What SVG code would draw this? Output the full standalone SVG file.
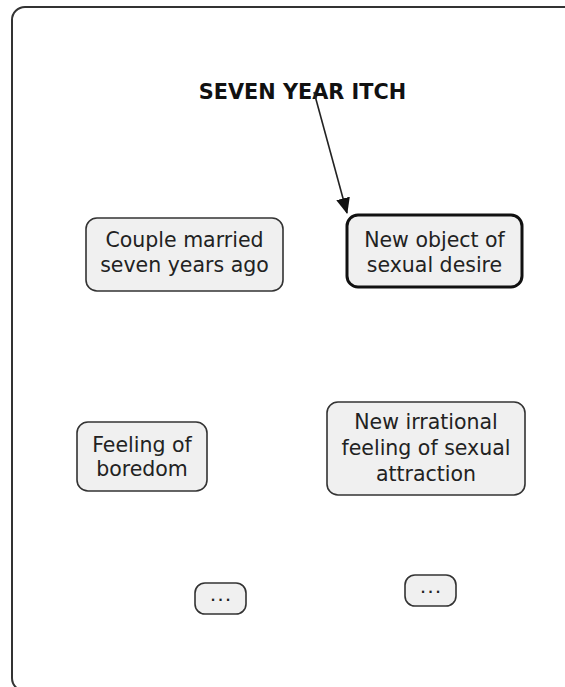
<svg xmlns="http://www.w3.org/2000/svg" width="565" height="687" viewBox="0 0 565 687">
<defs>
<style>
.frame{fill:#fff;stroke:#333;stroke-width:2}
.node rect{fill:#f0f0f0;stroke:#333;stroke-width:1.6}
.node.focus rect{stroke:#111;stroke-width:3}
.node text,.title{font-family:"DejaVu Sans",Verdana,sans-serif;fill:#222;text-anchor:middle}
.node text{font-size:20.5px}
.node text.dots{font-size:12px;font-weight:bold;letter-spacing:3px}
.title{font-size:20.8px;font-weight:bold;fill:#111}
.conn{stroke:#222;stroke-width:1.6;fill:none}
</style>
<marker id="arr" viewBox="0 0 16 14" refX="15" refY="7" markerWidth="16" markerHeight="14" markerUnits="userSpaceOnUse" orient="auto">
<path d="M0,0 L16,7 L0,14 z" fill="#111"/>
</marker>
</defs>
<rect width="565" height="687" fill="#fff"/>
<rect class="frame" x="12" y="7" width="572" height="684" rx="13"/>
<text class="title" x="302.5" y="99">SEVEN YEAR ITCH</text>
<g id="connectors">
<line class="conn" x1="314" y1="92" x2="347" y2="213" marker-end="url(#arr)"/>
</g>
<g id="n1" class="node">
<rect x="86" y="218" width="197" height="73" rx="11"/>
<text x="184.5" y="247">Couple married</text>
<text x="184.5" y="272">seven years ago</text>
</g>
<g id="n2" class="node focus">
<rect x="347" y="215" width="175" height="72" rx="11"/>
<text x="434.5" y="247">New object of</text>
<text x="434.5" y="272">sexual desire</text>
</g>
<g id="n3" class="node">
<rect x="77" y="422" width="130" height="69" rx="11"/>
<text x="142" y="452">Feeling of</text>
<text x="142" y="476">boredom</text>
</g>
<g id="n4" class="node">
<rect x="327" y="402" width="198" height="93" rx="11"/>
<text x="426" y="429">New irrational</text>
<text x="426" y="455">feeling of sexual</text>
<text x="426" y="481">attraction</text>
</g>
<g id="n5" class="node">
<rect x="195" y="583" width="51" height="31" rx="10"/>
<text class="dots" x="222" y="601">...</text>
</g>
<g id="n6" class="node">
<rect x="405" y="575" width="51" height="31" rx="10"/>
<text class="dots" x="432" y="593">...</text>
</g>
</svg>
